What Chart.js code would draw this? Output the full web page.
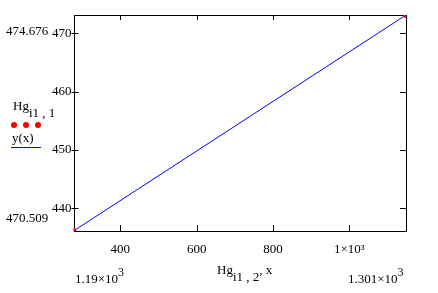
<!DOCTYPE html>
<html>
<head>
<meta charset="utf-8">
<script src="https://cdn.jsdelivr.net/npm/chart.js@4/dist/chart.umd.min.js"></script>
<style>
  html, body { margin: 0; padding: 0; background: #fff; }
  #wrap { position: relative; width: 438px; height: 293px; overflow: hidden; }
  canvas { position: absolute; left: 0; top: 0; }
  .t { position: absolute; font-family: "Liberation Serif", "Times New Roman", serif; font-size: 13px; line-height: 13px; color: #000; white-space: nowrap; }
  .sub { position: relative; top: 7px; }
  .sup { position: relative; top: -7px; font-size: 12px; }
  .dot { position: absolute; width: 6px; height: 6px; border-radius: 50%; background: #ff0000; }
</style>
</head>
<body>
<div id="wrap">
  <canvas id="c" width="438" height="293"></canvas>
  <div class="t" style="left:6px; top:24px;">474.676</div>
  <div class="t" style="left:6px; top:211px;">470.509</div>
  <div class="t" style="left:13px; top:99px;">Hg<span class="sub">i1 , 1</span></div>
  <div class="dot" style="left:11px; top:122px;"></div>
  <div class="dot" style="left:23px; top:122px;"></div>
  <div class="dot" style="left:35px; top:122px;"></div>
  <div class="t" style="left:12px; top:131px;">y(x)</div>
  <div style="position:absolute; left:11px; top:147px; width:30px; height:1px; background:#0000ff;"></div>
  <div class="t" style="left:75px; top:272px;">1.19×10<span class="sup">3</span></div>
  <div class="t" style="left:217px; top:263px;">Hg<span class="sub">i1 , 2</span>, x</div>
  <div class="t" style="left:348px; top:272px;">1.301×10<span class="sup">3</span></div>
</div>
<script>
// Data
const hgX = [277.4, 1148.5];
const hgY = [436.1, 473.16];
const lineX = [277.4, 1148.5];
const lineY = [436.1, 473.16];
const xTicks = [400, 600, 800, 1000];
const yTicks = [440, 450, 460, 470];
const xRange = [277.4, 1148.5];
const yRange = [436.1, 473.16];

const toPts = (xs, ys) => xs.map((x, i) => ({ x: x, y: ys[i] }));

const framePlugin = {
  id: 'frame',
  beforeDatasetsDraw(chart) {
    const { ctx, chartArea: a, scales } = chart;
    ctx.save();
    ctx.strokeStyle = '#000';
    ctx.lineWidth = 1;
    ctx.strokeRect(Math.round(a.left) + 0.5, Math.round(a.top) + 0.5,
                   Math.round(a.right) - Math.round(a.left), Math.round(a.bottom) - Math.round(a.top));
    ctx.beginPath();
    xTicks.forEach(v => {
      const px = Math.round(scales.x.getPixelForValue(v)) + 0.5;
      ctx.moveTo(px, a.bottom); ctx.lineTo(px, a.bottom - 6);
      ctx.moveTo(px, a.top); ctx.lineTo(px, a.top + 5);
    });
    yTicks.forEach(v => {
      const py = Math.round(scales.y.getPixelForValue(v)) + 0.5;
      ctx.moveTo(a.left - 2, py); ctx.lineTo(a.left + 5, py);
      ctx.moveTo(a.right, py); ctx.lineTo(a.right - 6, py);
    });
    ctx.stroke();
    ctx.restore();
  }
};

const tickFont = { family: '"Liberation Serif", "Times New Roman", serif', size: 13 };

new Chart(document.getElementById('c'), {
  type: 'scatter',
  data: {
    datasets: [
      {
        label: 'y(x)',
        data: toPts(lineX, lineY),
        showLine: true,
        borderColor: '#0000ff',
        borderWidth: 1,
        pointRadius: 0,
        clip: 0,
        order: 2
      },
      {
        label: 'Hg',
        data: toPts(hgX, hgY),
        showLine: false,
        backgroundColor: '#ff0000',
        borderColor: '#ff0000',
        pointRadius: 3,
        borderWidth: 0,
        clip: 0,
        order: 1
      }
    ]
  },
  options: {
    responsive: false,
    animation: false,
    devicePixelRatio: 1,
    layout: { padding: { left: 0, top: 15, right: 32, bottom: 0 } },
    plugins: { legend: { display: false }, tooltip: { enabled: false } },
    scales: {
      x: {
        type: 'linear',
        min: xRange[0], max: xRange[1],
        grid: { display: false, drawTicks: false, tickLength: 0 },
        border: { display: false },
        afterBuildTicks: s => { s.ticks = xTicks.map(v => ({ value: v })); },
        afterFit: s => { s.height = 62; },
        ticks: {
          font: tickFont, color: '#000', padding: 11, maxRotation: 0, autoSkip: false,
          callback: v => v === 1000 ? '1×10³' : String(v)
        }
      },
      y: {
        type: 'linear',
        min: yRange[0], max: yRange[1],
        grid: { display: false, drawTicks: false, tickLength: 0 },
        border: { display: false },
        afterBuildTicks: s => { s.ticks = yTicks.map(v => ({ value: v })); },
        afterFit: s => { s.width = 73.5; },
        ticks: { font: tickFont, color: '#000', padding: 2, autoSkip: false }
      }
    }
  },
  plugins: [framePlugin]
});
</script>
</body>
</html>
